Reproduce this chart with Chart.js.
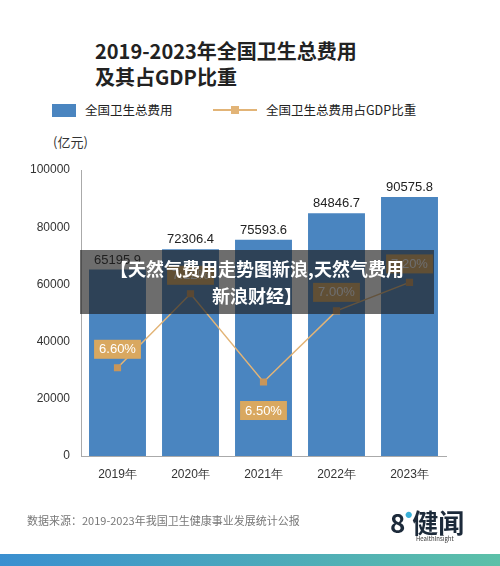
<!DOCTYPE html><html><head><meta charset="utf-8">
<script src="https://cdn.jsdelivr.net/npm/chart.js@4"></script>
<style>
body{margin:0;width:500px;height:566px;position:relative;background:#fff;font-family:"Noto Sans CJK SC",sans-serif;overflow:hidden}
.t{position:absolute;left:95px;font-weight:bold;font-size:20px;color:#222}
#c{position:absolute;left:0;top:0}
.leg{position:absolute;top:100px;font-size:12.5px;color:#222}
.banner{position:absolute;left:80px;top:250px;width:354px;height:64px;background:rgba(30,30,30,0.65);color:#fff;font-weight:bold;font-size:18px;text-align:center;line-height:27px;padding-top:5px;box-sizing:border-box}
</style></head><body>
<div class="t" style="top:36px">2019-2023年全国卫生总费用</div>
<div class="t" style="top:62px">及其占GDP比重</div>
<div class="leg" style="left:52px"><span style="display:inline-block;width:24px;height:13px;background:#4a85c0;vertical-align:-2px;margin-right:9px"></span>全国卫生总费用</div>
<div class="leg" style="left:213px"><span style="display:inline-block;width:44px;height:2px;background:#e2b477;vertical-align:4px;position:relative;margin-right:9px"><span style="position:absolute;left:18px;top:-3px;width:8px;height:8px;background:#e2b477"></span></span>全国卫生总费用占GDP比重</div>
<div style="position:absolute;left:53px;top:132px;font-size:13px;color:#333">(亿元)</div>
<canvas id="c" width="500" height="566"></canvas>
<div class="banner">【天然气费用走势图新浪,天然气费用<br>新浪财经】</div>
<div style="position:absolute;left:27px;top:512px;font-size:11px;color:#777">数据来源：2019-2023年我国卫生健康事业发展统计公报</div>
<div style="position:absolute;left:390px;top:500px;font-size:26px;font-weight:bold;color:#1c2a3a;line-height:28px">8<span style="font-size:7px;color:#3ab0d8;vertical-align:16px">●</span>健闻</div>
<div style="position:absolute;left:416px;top:535px;font-size:6px;line-height:7px;color:#333">HealthInsight</div>
<div style="position:absolute;left:0;top:554px;width:500px;height:12px;background:linear-gradient(90deg,#3a8fd0,#5cc0a8)"></div>
<script>
const categories=["2019年","2020年","2021年","2022年","2023年"];
const spending=[65195.9,72306.4,75593.6,84846.7,90575.8];
const gdpShare=[6.60,7.12,6.50,7.00,7.20];
const yTicks=[0,20000,40000,60000,80000,100000];
const labels={id:'labels',afterDatasetsDraw(ch){const c=ch.ctx;c.save();
 ch.getDatasetMeta(0).data.forEach((b,i)=>{c.fillStyle='#222';c.font='13px "Liberation Sans"';c.textAlign='center';c.fillText(spending[i].toFixed(1),b.x,b.y-6);});
 ch.getDatasetMeta(1).data.forEach((p,i)=>{const below=i===2;const y=below?p.y+28:p.y-19;c.font='13px "Liberation Sans"';const t=gdpShare[i].toFixed(2)+'%';const w=c.measureText(t).width+10;c.fillStyle='#d9a860';c.fillRect(p.x-w/2,y-9,w,19);c.fillStyle='#fff';c.textAlign='center';c.textBaseline='middle';c.fillText(t,p.x,y+1);c.textBaseline='alphabetic';});
 c.restore();}};
new Chart(document.getElementById('c'),{data:{labels:categories,datasets:[
 {type:'bar',data:spending,backgroundColor:'#4a85c0',barPercentage:0.78,categoryPercentage:1,yAxisID:'y',order:2},
 {type:'line',data:gdpShare,borderColor:'#e2b477',borderWidth:1.5,pointStyle:'rect',pointRadius:4,pointBackgroundColor:'#c9965a',pointBorderColor:'#c9965a',yAxisID:'y1',order:1}]},
 options:{responsive:false,animation:false,events:[],layout:{padding:{left:26,right:54,top:170,bottom:76}},
 plugins:{legend:{display:false},tooltip:{enabled:false}},
 scales:{x:{afterFit(s){s.height=34},grid:{display:false,drawTicks:true},border:{color:'#aaa'},ticks:{color:'#333',font:{size:12}}},
 y:{min:0,max:100000,afterFit(s){s.width=55},afterBuildTicks(s){s.ticks=yTicks.map(v=>({value:v}))},grid:{display:false},border:{color:'#aaa'},ticks:{color:'#333',font:{size:12},callback:v=>String(v)}},
 y1:{display:false,min:5.98,max:7.99}}},plugins:[labels]});
</script></body></html>
